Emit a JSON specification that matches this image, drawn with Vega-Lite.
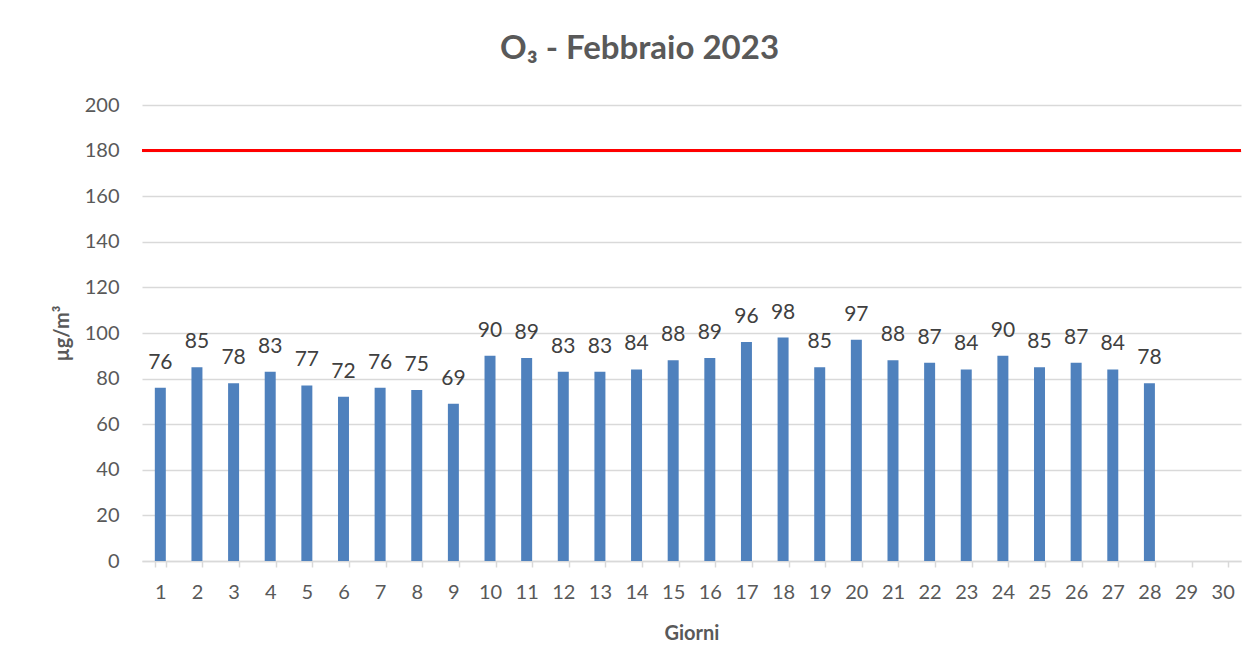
{
  "$schema": "https://vega.github.io/schema/vega-lite/v6.json",
  "width": 1099,
  "height": 456,
  "autosize": {"type": "none"},
  "padding": {"left": 142, "top": 105, "right": 17, "bottom": 110},
  "background": "white",
  "config": {"view": {"stroke": null}},
  "title": {
    "text": "O₃ - Febbraio 2023",
    "font": "Lato",
    "fontSize": 33,
    "fontWeight": "bold",
    "color": "#595959",
    "anchor": "middle",
    "dx": -52,
    "offset": 29
  },
  "data": {
    "values": [
      {"giorno": "1", "valore": 76}, {"giorno": "2", "valore": 85}, {"giorno": "3", "valore": 78},
      {"giorno": "4", "valore": 83}, {"giorno": "5", "valore": 77}, {"giorno": "6", "valore": 72},
      {"giorno": "7", "valore": 76}, {"giorno": "8", "valore": 75}, {"giorno": "9", "valore": 69},
      {"giorno": "10", "valore": 90}, {"giorno": "11", "valore": 89}, {"giorno": "12", "valore": 83},
      {"giorno": "13", "valore": 83}, {"giorno": "14", "valore": 84}, {"giorno": "15", "valore": 88},
      {"giorno": "16", "valore": 89}, {"giorno": "17", "valore": 96}, {"giorno": "18", "valore": 98},
      {"giorno": "19", "valore": 85}, {"giorno": "20", "valore": 97}, {"giorno": "21", "valore": 88},
      {"giorno": "22", "valore": 87}, {"giorno": "23", "valore": 84}, {"giorno": "24", "valore": 90},
      {"giorno": "25", "valore": 85}, {"giorno": "26", "valore": 87}, {"giorno": "27", "valore": 84},
      {"giorno": "28", "valore": 78}
    ]
  },
  "encoding": {
    "x": {
      "field": "giorno",
      "type": "ordinal",
      "scale": {
        "domain": ["1","2","3","4","5","6","7","8","9","10","11","12","13","14","15","16","17","18","19","20","21","22","23","24","25","26","27","28","29","30"],
        "paddingInner": 0.7,
        "paddingOuter": 0.35
      },
      "axis": {
        "title": "Giorni",
        "titleFont": "Lato",
        "titleFontSize": 20,
        "titleFontWeight": "bold",
        "titleColor": "#595959",
        "titlePadding": 21,
        "labelAngle": 0,
        "labelFont": "Lato",
        "labelFontSize": 20,
        "labelColor": "#595959",
        "labelPadding": 15,
        "tickBand": "extent",
        "tickSize": 6,
        "tickColor": "#d9d9d9",
        "tickWidth": 1.5,
        "domainColor": "#d9d9d9",
        "domainWidth": 1.5,
        "grid": false
      }
    }
  },
  "layer": [
    {
      "mark": {"type": "bar", "color": "#4f81bd"},
      "encoding": {
        "y": {
          "field": "valore",
          "type": "quantitative",
          "scale": {"domain": [0, 200]},
          "axis": {
            "title": "µg/m³",
            "titleFont": "Lato",
            "titleFontSize": 20,
            "titleFontWeight": "bold",
            "titleColor": "#595959",
            "titlePadding": 12,
            "values": [0,20,40,60,80,100,120,140,160,180,200],
            "labelFont": "Lato",
            "labelFontSize": 20,
            "labelColor": "#595959",
            "labelPadding": 23,
            "ticks": false,
            "domain": false,
            "grid": true,
            "gridColor": "#d9d9d9",
            "gridWidth": 1.5
          }
        }
      }
    },
    {
      "mark": {"type": "text", "font": "Lato", "fontSize": 21, "color": "#404040", "baseline": "alphabetic", "dy": -19},
      "encoding": {
        "y": {"field": "valore", "type": "quantitative"},
        "text": {"field": "valore", "type": "quantitative"}
      }
    },
    {
      "data": {"values": [{"soglia": 180}]},
      "mark": {"type": "rule", "color": "#ff0000", "strokeWidth": 3},
      "encoding": {
        "x": null,
        "y": {"field": "soglia", "type": "quantitative"}
      }
    }
  ]
}
